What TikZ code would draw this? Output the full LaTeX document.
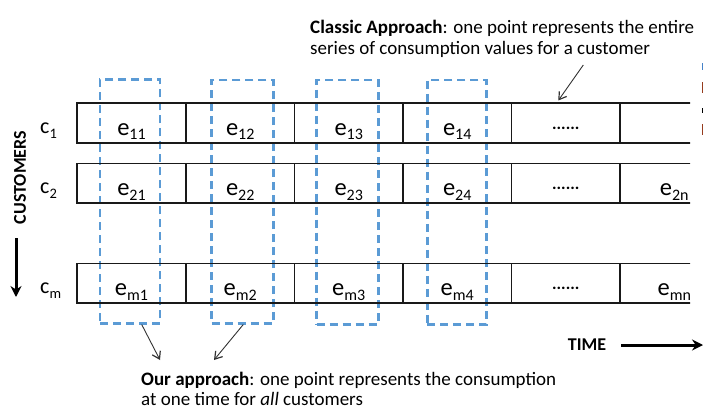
\documentclass[tikz,border=0pt]{standalone}
\usepackage{fontspec}
\setmainfont{Carlito}
\usetikzlibrary{arrows.meta}
\definecolor{dashblue}{HTML}{5B9BD5}
\definecolor{linegray}{RGB}{50,50,50}
\definecolor{fragblue}{RGB}{70,130,200}
\definecolor{fragbrown}{RGB}{150,60,30}
\newcommand{\cellsub}[1]{\raisebox{-5pt}{\fontsize{16}{16}\selectfont #1}}
\newcommand{\rowsub}[1]{\raisebox{-5pt}{\fontsize{14.5}{15}\selectfont #1}}
\begin{document}
\begin{tikzpicture}[x=1pt,y=-1pt,
  cellbox/.style={draw=black!90, line width=1.6pt, minimum width=108.5pt,
    minimum height=39.4pt, inner sep=0pt, text height=28pt, text depth=4pt,
    font=\fontsize{24.5}{28}\selectfont},
  rowlabel/.style={anchor=base west, inner sep=0pt, font=\fontsize{22}{26}\selectfont},
  bluebox/.style={draw=dashblue, line width=2.6pt, dash pattern=on 8pt off 5pt,
    inner sep=0pt},
  note/.style={align=left, inner sep=0pt, anchor=base west},
  thinarrow/.style={draw=linegray, line width=0.9pt,
    -{Straight Barb[length=7pt,width=9pt,line width=1.2pt]}},
  thickarrow/.style={draw=black, line width=3pt, -{Stealth[length=11pt,width=11pt]}},
  axislabel/.style={inner sep=0pt, font=\bfseries\fontsize{18}{20}\selectfont}]
\useasboundingbox (0,0) rectangle (703,409);

% blue dashed boxes (one time instant for all customers)
\node[bluebox, minimum width=60pt, minimum height=244pt] (b1) at (130,201.3) {};
\node[bluebox, minimum width=61.6pt, minimum height=243.5pt] (b2) at (242.5,201.8) {};
\node[bluebox, minimum width=61.6pt, minimum height=244.3pt] (b3) at (347.5,202.2) {};
\node[bluebox, minimum width=59.4pt, minimum height=244.3pt] (b4) at (457,202.2) {};

% rows of consumption values
\begin{scope}
\clip (0,0) rectangle (690,409);
\foreach \r/\cy/\lab in {1/123/1, 2/183/2, m/283/m}{
  \node[cellbox] (r\r c1) at (131.5,\cy) {e\cellsub{\lab1}};
  \node[cellbox] (r\r c2) at (240.25,\cy) {e\cellsub{\lab2}};
  \node[cellbox] (r\r c3) at (348.75,\cy) {e\cellsub{\lab3}};
  \node[cellbox] (r\r c4) at (457.25,\cy) {e\cellsub{\lab4}};
  \node[cellbox, font=\bfseries\fontsize{17}{20}\selectfont, text height=12pt, text depth=-12pt] (r\r c5) at (565.75,\cy) {......};
}
\node[cellbox] (r1c6) at (674.25,123) {};
\node[cellbox] (r2c6) at (674.25,183) {e\cellsub{2n}};
\node[cellbox] (rmc6) at (674.25,283) {e\cellsub{mn}};
\end{scope}

% customer labels
\node[rowlabel] (c1) at (40,133.5) {c\rowsub{1}};
\node[rowlabel] (c2) at (40,193.5) {c\rowsub{2}};
\node[rowlabel] (cm) at (40,293.5) {c\rowsub{m}};

% axes
\node[axislabel, rotate=90] (cust) at (20,177.5) {CUSTOMERS};
\coordinate (custA) at (16,238);
\coordinate (custB) at (16,297);
\draw[thickarrow] (custA) -- (custB);
\node[axislabel] (time) at (587,345) {TIME};
\coordinate (timeB) at (703,345);
\draw[thickarrow] (time.east) ++(15,0) coordinate (timeA) -- (timeB);

% annotations
\node[note, font=\fontsize{19}{21.7}\selectfont] (classic) at (310,55) {\textbf{Classic Approach}: one point represents the entire\\series of consumption values for a customer};
\node[note, font=\fontsize{19}{19.5}\selectfont] (ours) at (141,405) {\textbf{Our approach}: one point represents the consumption\\at one time for \textit{all} customers};

\coordinate (clA) at (583.3,65);
\coordinate (clB) at (558.3,100.5);
\draw[thinarrow] (clA) -- (clB);
\coordinate (o1A) at (141.7,324.5);
\coordinate (o1B) at (160,360);
\draw[thinarrow] (o1A) -- (o1B);
\coordinate (o2A) at (243.3,324.5);
\coordinate (o2B) at (214,360);
\draw[thinarrow] (o2A) -- (o2B);

% cut-off fragments at the right edge
\fill[fragblue] (701.5,63) rectangle (703,70);
\fill[fragbrown] (701.5,82) rectangle (703,93);
\fill[black] (701.5,108) rectangle (703,113);
\fill[fragbrown] (701.5,124) rectangle (703,135);
\end{tikzpicture}
\end{document}
